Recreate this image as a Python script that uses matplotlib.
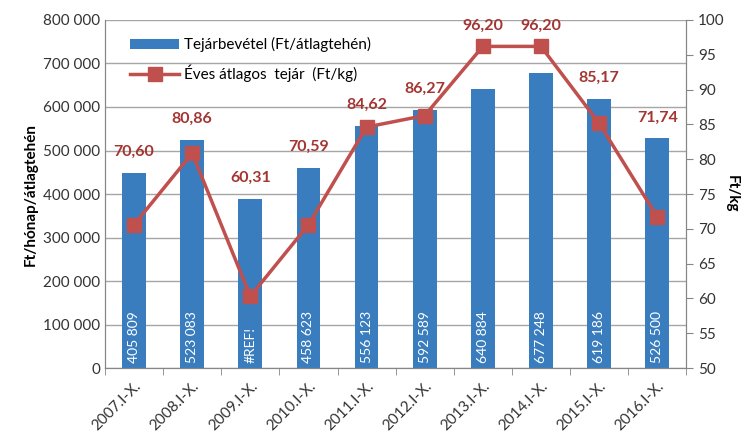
import matplotlib

matplotlib.use("Agg")
import matplotlib.pyplot as plt
import numpy as np

plt.rcParams["font.family"] = ["Lato", "DejaVu Sans"]

years = ["2007.I-X.", "2008.I-X.", "2009.I-X.", "2010.I-X.", "2011.I-X.",
         "2012.I-X.", "2013.I-X.", "2014.I-X.", "2015.I-X.", "2016.I-X."]
revenue = [448000, 524000, 389000, 460000, 556000, 593000, 641000, 679000, 618000, 528000]
revenue_labels = ["405 809", "523 083", "#REF!", "458 623", "556 123",
                  "592 589", "640 884", "677 248", "619 186", "526 500"]
milk_price = [70.60, 80.86, 60.31, 70.59, 84.62, 86.27, 96.20, 96.20, 85.17, 71.74]

BAR_COLOR = "#3A7DBF"
LINE_COLOR = "#C0504D"
LABEL_COLOR = "#A33532"

fig = plt.figure(figsize=(7.5, 4.43), dpi=100)
ax = fig.add_axes([0.14, 0.169, 0.775, 0.786])
ax2 = ax.twinx()

x = np.arange(len(years))
ax.bar(x, revenue, width=0.41, color=BAR_COLOR, zorder=2,
       label="Tejárbevétel (Ft/átlagtehén)")
for xi, txt in zip(x, revenue_labels):
    ax.text(xi, 12000, txt, rotation=90, ha="center", va="bottom",
            color="white", fontsize=10, zorder=3)

ax.set_ylim(0, 800000)
ax.set_yticks(np.arange(0, 800001, 100000))
ax.set_yticklabels([f"{int(v):,}".replace(",", " ") for v in ax.get_yticks()],
                   fontsize=11, color="#333333")
ax.grid(axis="y", color="#A6A6A6", linewidth=1, zorder=0)
ax.set_axisbelow(True)
ax.set_xlim(-0.5, len(years) - 0.5)
ax.set_xticks(x)
ax.set_xticklabels(years, rotation=45, ha="right", rotation_mode="anchor",
                   fontsize=11, color="#333333")
ax.tick_params(axis="x", length=0, pad=8)
ax.set_xticks(np.arange(-0.5, len(years)), minor=True)
ax.tick_params(axis="x", which="minor", length=5, color="#868686")
ax.tick_params(axis="y", length=0)
ax.set_ylabel("Ft/hónap/átlagtehén", fontsize=11, fontweight="bold", labelpad=4)

ax2.plot(x, milk_price, color=LINE_COLOR, linewidth=2.5, marker="s",
         markersize=10, zorder=4, label="Éves átlagos  tejár  (Ft/kg)")
ax2.set_ylim(50, 100)
ax2.set_yticks(np.arange(50, 101, 5))
ax2.tick_params(axis="y", labelsize=11, labelcolor="#333333", length=5,
                color="#868686")
ax2.set_ylabel("Ft/kg", fontsize=11, fontweight="bold", rotation=270, labelpad=10)

# labels sit above whichever is higher: the bar or the marker
bar_in_right = [50 + r / 800000 * 50 for r in revenue]
for xi, p, b in zip(x, milk_price, bar_in_right):
    ax2.annotate(f"{p:.2f}".replace(".", ","), (xi, max(p, b)),
                 xytext=(0, 10), textcoords="offset points", ha="center",
                 va="bottom", color=LABEL_COLOR, fontsize=11.5, fontweight="bold")

for a in (ax, ax2):
    a.spines["top"].set_visible(False)
    a.spines["left"].set_color("#868686")
    a.spines["right"].set_color("#868686")
    a.spines["bottom"].set_color("#868686")

h1, l1 = ax.get_legend_handles_labels()
h2, l2 = ax2.get_legend_handles_labels()
ax.legend(h1 + h2, l1 + l2, loc="upper left", bbox_to_anchor=(0.02, 0.99),
          frameon=False, fontsize=11, handlelength=3.2, labelspacing=0.8,
          handletextpad=0.3)

fig.savefig("out.png", dpi=100)
